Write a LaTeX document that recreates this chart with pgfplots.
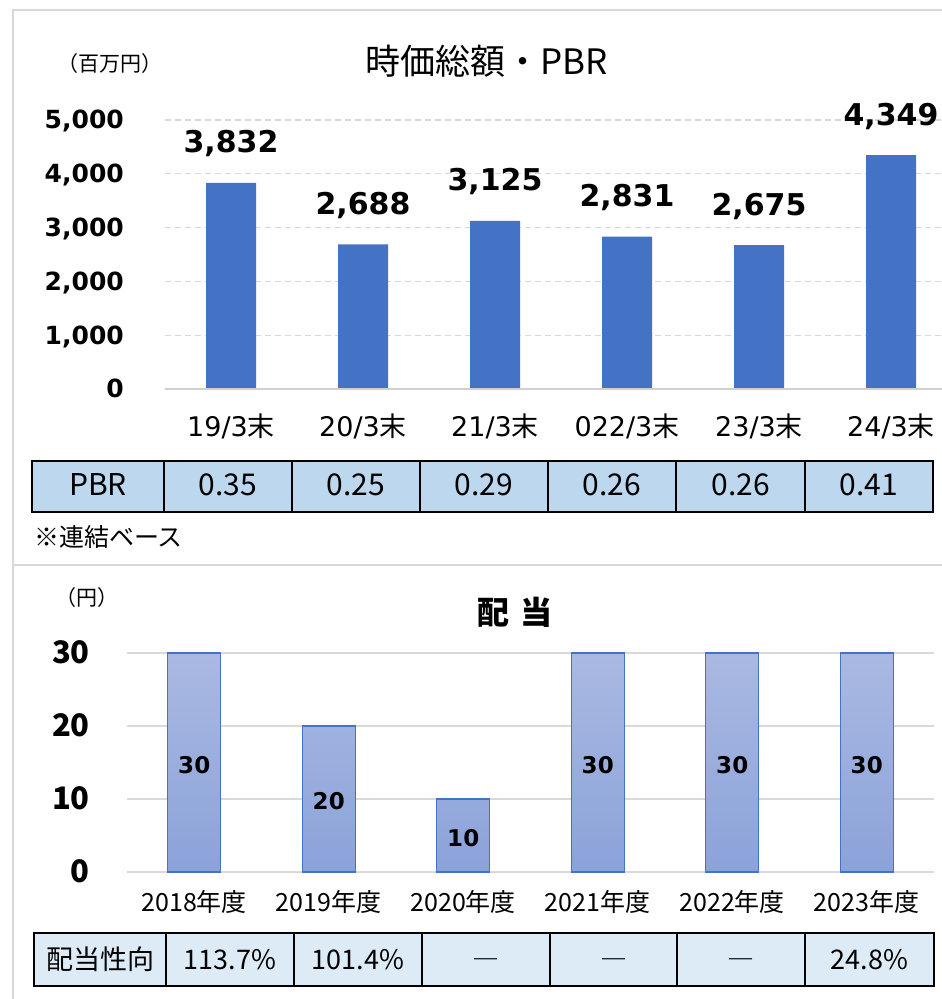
\documentclass[border=0pt]{standalone}
\usepackage{pgfplots}
\pgfplotsset{compat=1.18}
\usepackage{pgfplotstable}
\usepackage{fontspec}
\setmainfont{DejaVu Sans}
\newfontfamily\jp{Noto Sans CJK JP}
\definecolor{barblue}{HTML}{4472C4}
\definecolor{gridgray}{HTML}{D9D9D9}
\definecolor{basegray}{HTML}{D0D0D0}
\definecolor{pbrfill}{HTML}{BDD7EE}
\definecolor{divfill}{HTML}{DDEBF7}
\definecolor{shtop}{HTML}{AAB9E2}
\definecolor{shbot}{HTML}{8BA2D9}

\pgfplotstableread{
x y
0 3832
1 2688
2 3125
3 2831
4 2675
5 4349
}\mcap
\pgfplotstableread{
x y
0 30
1 20
2 10
3 30
4 30
5 30
}\divs

\begin{document}
\begin{tikzpicture}
\useasboundingbox (0,0) rectangle (942pt,999pt);
\draw[gridgray, line width=2pt] (13pt,0pt) -- (13pt,989pt) -- (942pt,989pt);
\draw[gridgray, line width=2pt] (13pt,434pt) -- (942pt,434pt);

% ---------- top chart ----------
\node[font=\jp\fontsize{35}{42}\selectfont, anchor=base, inner sep=0pt] at (487pt,924pt) {時価総額・PBR};
\node[font=\jp\fontsize{21}{25}\selectfont, anchor=base, inner sep=0pt] at (110pt,927pt) {（百万円）};

\begin{axis}[
  at={(165pt,610pt)}, anchor=south west,
  scale only axis, width=777.5pt, height=269pt,
  xmin=-0.5, xmax=5.39, ymin=0, ymax=5000,
  axis line style={draw=none}, major tick length=0pt,
  xtick={0,...,5},
  xticklabels={19/3{\jp 末},20/3{\jp 末},21/3{\jp 末},022/3{\jp 末},23/3{\jp 末},24/3{\jp 末}},
  ytick={0,1000,...,5000},
  ymajorgrids,
  grid style={gridgray, line width=1.3pt, dash pattern=on 6pt off 4pt},
  clip=false,
  /pgf/number format/assume math mode=true,
  /pgf/number format/1000 sep={,},
  yticklabel style={font=\fontsize{25}{30}\selectfont\bfseries, anchor=base east, inner sep=0pt, xshift=-41pt, yshift=-9pt},
  xticklabel style={font=\fontsize{27}{32}\selectfont, anchor=base, inner sep=0pt, yshift=-48pt},
]
\addplot[ybar, bar width=50pt, fill=barblue, draw=none,
  nodes near coords,
  every node near coord/.append style={font=\fontsize{30}{36}\selectfont\bfseries, anchor=base, inner sep=0pt, yshift=30pt, text=black}]
  table[x=x, y=y]{\mcap};
\draw[basegray, line width=1.6pt] (axis cs:-0.5,0) -- (axis cs:5.39,0);
\end{axis}

% PBR table
\foreach \xl/\xr/\t in {32/164/PBR, 164/292/0.35, 292/420/0.25, 420/548/0.29, 548/676/0.26, 676/805/0.26, 805/933/0.41} {
  \draw[fill=pbrfill, line width=1.2pt] (\xl pt,487pt) rectangle (\xr pt,538pt);
  \node[font=\jp\fontsize{30}{35}\selectfont, anchor=base, inner sep=0pt] at ({(\xl+\xr)/2*1pt},503pt) {\t};
}
\node[font=\jp\fontsize{25}{30}\selectfont, anchor=base west, inner sep=0pt] at (34pt,452pt) {※連結ベース};

% ---------- bottom chart ----------
\node[font=\jp\fontsize{32}{38}\selectfont\bfseries, anchor=base, inner sep=0pt] at (515pt,374pt) {配\,\,当};
\node[font=\jp\fontsize{21}{25}\selectfont, anchor=base, inner sep=0pt] at (87pt,393pt) {（円）};

\begin{axis}[
  at={(127pt,127pt)}, anchor=south west,
  scale only axis, width=807pt, height=219pt,
  xmin=-0.5, xmax=5.5, ymin=0, ymax=30,
  axis line style={draw=none}, major tick length=0pt,
  xtick={0,...,5},
  xticklabels={2018年度,2019年度,2020年度,2021年度,2022年度,2023年度},
  ytick={0,10,20,30},
  ymajorgrids,
  grid style={gridgray, line width=1.4pt},
  clip=false,
  /pgf/number format/assume math mode=true,
  yticklabel style={font=\jp\fontsize{31}{36}\selectfont\bfseries, anchor=base east, inner sep=0pt, xshift=-37pt, yshift=-11pt},
  xticklabel style={font=\jp\fontsize{25}{30}\selectfont, anchor=base, inner sep=0pt, yshift=-40pt},
]
\addplot[ybar, bar width=53pt, draw=barblue, line width=1.3pt, top color=shtop, bottom color=shbot]
  table[x=x, y=y]{\divs};
\addplot[draw=none, mark=none, point meta=explicit,
  nodes near coords,
  every node near coord/.append style={font=\fontsize{23}{28}\selectfont\bfseries, anchor=base, inner sep=0pt, yshift=-11pt, text=black}]
  table[x=x, y expr=\thisrow{y}/2, meta=y]{\divs};
\end{axis}

% payout table
\foreach \xl/\xr in {34/166, 166/294, 294/422, 422/550, 550/677, 677/805, 805/934} {
  \draw[fill=divfill, line width=1.2pt] (\xl pt,13pt) rectangle (\xr pt,66pt);
}
\foreach \xl/\xr/\t in {34/166/配当性向, 166/294/113.7\%, 294/422/101.4\%, 422/550/―, 550/677/―, 677/805/―, 805/934/24.8\%} {
  \node[font=\jp\fontsize{27}{32}\selectfont, anchor=base, inner sep=0pt] at ({(\xl+\xr)/2*1pt},29pt) {\t};
}
\end{tikzpicture}
\end{document}
